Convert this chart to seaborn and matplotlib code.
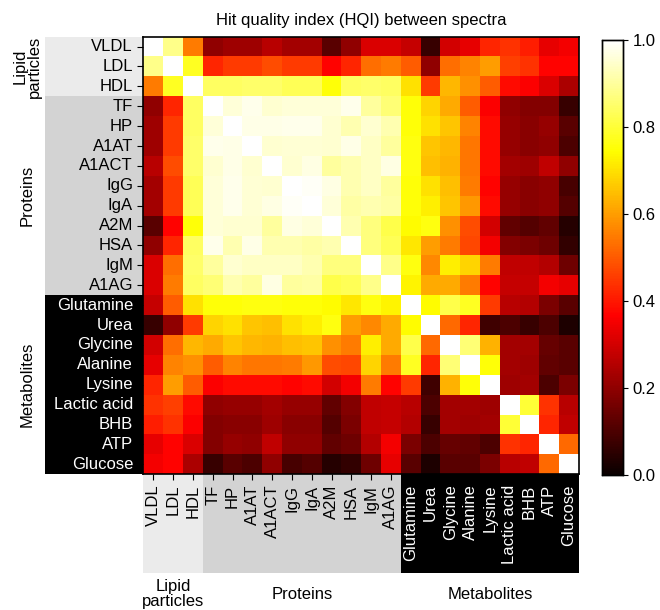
import numpy as np
import pandas as pd
import seaborn as sns
import matplotlib
matplotlib.use("Agg")
from matplotlib import pyplot as plt
from matplotlib.patches import Rectangle
from matplotlib import transforms

lipids = ["VLDL", "LDL", "HDL"]
proteins = ["TF", "HP", "A1AT", "A1ACT", "IgG", "IgA", "A2M", "HSA", "IgM", "A1AG"]
metabolites = ["Glutamine", "Urea", "Glycine", "Alanine", "Lysine",
               "Lactic acid", "BHB", "ATP", "Glucose"]
names = lipids + proteins + metabolites

# upper triangle of the HQI matrix, row by row (columns right of the diagonal)
upper = [
    [0.88, 0.55, 0.20, 0.22, 0.22, 0.26, 0.23, 0.23, 0.12, 0.20, 0.31, 0.31, 0.28, 0.07, 0.30, 0.33, 0.42, 0.44, 0.41, 0.33, 0.35],
    [0.78, 0.42, 0.45, 0.45, 0.48, 0.45, 0.45, 0.37, 0.42, 0.53, 0.55, 0.50, 0.20, 0.53, 0.56, 0.60, 0.46, 0.44, 0.37, 0.37],
    [0.84, 0.84, 0.85, 0.85, 0.83, 0.83, 0.75, 0.84, 0.85, 0.84, 0.70, 0.45, 0.64, 0.58, 0.50, 0.38, 0.36, 0.31, 0.24],
    [0.96, 0.98, 0.95, 0.96, 0.96, 0.96, 0.98, 0.90, 0.86, 0.75, 0.68, 0.62, 0.50, 0.36, 0.20, 0.18, 0.18, 0.07],
    [0.975, 0.975, 0.98, 0.98, 0.95, 0.92, 0.95, 0.92, 0.75, 0.70, 0.66, 0.56, 0.38, 0.21, 0.19, 0.21, 0.12],
    [0.95, 0.955, 0.955, 0.95, 0.975, 0.94, 0.90, 0.76, 0.66, 0.64, 0.54, 0.38, 0.21, 0.19, 0.20, 0.10],
    [0.95, 0.97, 0.90, 0.92, 0.94, 0.97, 0.76, 0.65, 0.63, 0.54, 0.38, 0.23, 0.22, 0.27, 0.20],
    [0.99, 0.97, 0.92, 0.94, 0.90, 0.75, 0.70, 0.65, 0.55, 0.37, 0.21, 0.19, 0.20, 0.09],
    [0.96, 0.91, 0.92, 0.91, 0.75, 0.72, 0.66, 0.59, 0.38, 0.21, 0.19, 0.20, 0.11],
    [0.92, 0.87, 0.82, 0.74, 0.76, 0.58, 0.48, 0.30, 0.13, 0.11, 0.13, 0.04],
    [0.87, 0.83, 0.71, 0.60, 0.55, 0.47, 0.35, 0.18, 0.17, 0.15, 0.06],
    [0.88, 0.76, 0.57, 0.72, 0.68, 0.55, 0.27, 0.27, 0.25, 0.15],
    [0.73, 0.62, 0.62, 0.55, 0.37, 0.28, 0.28, 0.35, 0.33],
    [0.74, 0.82, 0.78, 0.45, 0.26, 0.25, 0.17, 0.12],
    [0.52, 0.42, 0.08, 0.10, 0.07, 0.10, 0.03],
    [0.86, 0.63, 0.23, 0.23, 0.14, 0.12],
    [0.75, 0.23, 0.22, 0.13, 0.12],
    [0.22, 0.23, 0.10, 0.17],
    [0.80, 0.44, 0.26],
    [0.42, 0.27],
    [0.52],
]

n = len(names)
hqi = np.eye(n)
for i, row in enumerate(upper):
    for k, v in enumerate(row):
        hqi[i, i + 1 + k] = v
        hqi[i + 1 + k, i] = v
df = pd.DataFrame(hqi, index=names, columns=names)

plt.rcParams["font.family"] = ["Liberation Sans", "DejaVu Sans"]
plt.rcParams["font.size"] = 12

fig = plt.figure(figsize=(6.6, 6.1), dpi=100)
ax = fig.add_axes([0.2173, 0.2226, 0.6600, 0.7174])
cax = fig.add_axes([0.912, 0.222, 0.032, 0.712])

sns.heatmap(df, cmap="hot", vmin=0, vmax=1, ax=ax, cbar_ax=cax,
            square=False, xticklabels=names, yticklabels=names)
ax.set_title("Hit quality index (HQI) between spectra", fontsize=12, pad=8)
for s in ax.spines.values():
    s.set_visible(True)
    s.set_linewidth(1.2)
cax.tick_params(labelsize=12)
for s in cax.spines.values():
    s.set_visible(True)
    s.set_linewidth(1)
cax.set_yticks([0, 0.2, 0.4, 0.6, 0.8, 1.0])

ax.tick_params(axis="both", labelsize=12, length=4)
ax.set_xticklabels(names, rotation=90)
ax.set_yticklabels(names, rotation=0)

groups = [(0, 3, "#ebebeb", "black", "Lipid\nparticles"),
          (3, 13, "#d3d3d3", "black", "Proteins"),
          (13, 22, "black", "white", "Metabolites")]

left_tr = transforms.blended_transform_factory(fig.transFigure, ax.transData)
bot_tr = transforms.blended_transform_factory(ax.transData, fig.transFigure)
for a, b, bg, fg, label in groups:
    fig.add_artist(Rectangle((0.068, a), 0.2173 - 0.068, b - a, transform=left_tr,
                             facecolor=bg, edgecolor="none", zorder=-1))
    fig.add_artist(Rectangle((a, 0.061), b - a, 0.2226 - 0.061, transform=bot_tr,
                             facecolor=bg, edgecolor="none", zorder=-1))
    fig.text(0.041, (a + b) / 2, label, transform=left_tr, rotation=90,
             ha="center", va="center", fontsize=12, linespacing=0.95)
    fig.text((a + b) / 2, 0.026, label, transform=bot_tr,
             ha="center", va="center", fontsize=12, linespacing=0.95)
    for idx in range(a, b):
        ax.get_xticklabels()[idx].set_color(fg)
        ax.get_yticklabels()[idx].set_color(fg)
        ax.xaxis.get_major_ticks()[idx].tick1line.set_color(fg)
        ax.yaxis.get_major_ticks()[idx].tick1line.set_color(fg)

fig.savefig("out.png", dpi=100)
